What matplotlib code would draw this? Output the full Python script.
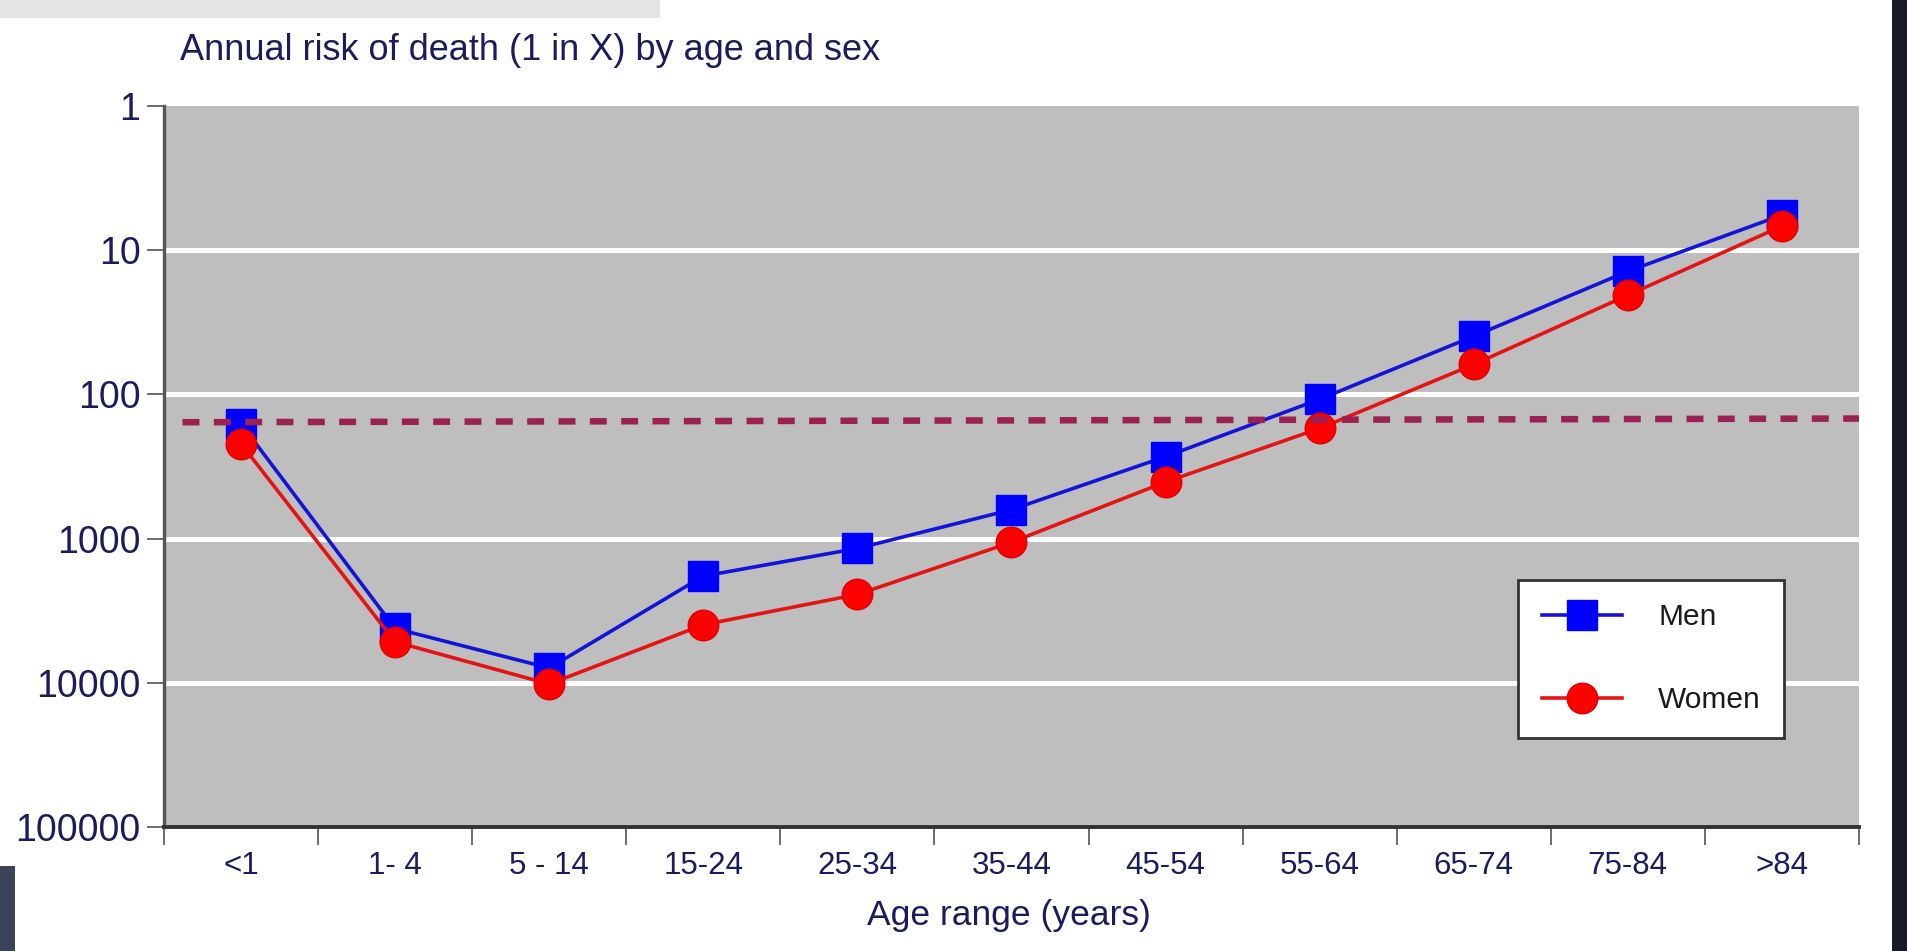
import numpy as np
import matplotlib.pyplot as plt
from matplotlib.patches import Rectangle
from matplotlib.ticker import FixedLocator, NullFormatter

# age bands and annual risk of death, 1 in X
age_bands = ['<1', '1- 4', '5 - 14', '15-24', '25-34', '35-44',
             '45-54', '55-64', '65-74', '75-84', '>84']
men = [160, 4200, 7900, 1820, 1170, 630, 270, 108, 39.5, 14.0, 5.7]
women = [220, 5200, 10200, 3960, 2440, 1060, 405, 172, 62, 20.5, 6.8]
ref_x = [-0.38, 10.5]
ref_y = [156, 147]
y_ticks = [1, 10, 100, 1000, 10000, 100000]

navy = '#1c1c5c'
sans = ['Liberation Sans', 'DejaVu Sans']

fig = plt.figure(figsize=(19.08, 9.51), dpi=100)
fig.patch.set_facecolor('white')
ax = fig.add_axes([164 / 1908, 1 - 827 / 951, 1695 / 1908, 721 / 951])

# scan artefacts around the edges of the original picture
fig.patches.append(Rectangle((1892 / 1908, 0), 16 / 1908, 1, transform=fig.transFigure,
                             facecolor='#181a28', edgecolor='none', zorder=0))
fig.patches.append(Rectangle((0, 0), 15 / 1908, 85 / 951, transform=fig.transFigure,
                             facecolor='#3c4258', edgecolor='none', zorder=0))
fig.patches.append(Rectangle((0, 1 - 18 / 951), 660 / 1908, 18 / 951, transform=fig.transFigure,
                             facecolor='#e4e4e6', edgecolor='none', zorder=0))

ax.set_facecolor('#bebebe')
x = np.arange(len(age_bands))

ax.set_yscale('log')
ax.set_ylim(100000, 1)
ax.set_xlim(-0.5, len(age_bands) - 0.5)

for v in y_ticks[1:-1]:
    ax.axhline(v, color='white', lw=3.6, zorder=1)

ax.plot(x, men, color='#1414d8', lw=2.6, marker='s', ms=21, mfc='#0000ff', mec='#0000ff',
        label='Men', zorder=3)
ax.plot(x, women, color='#e41414', lw=2.6, marker='o', ms=22, mfc='#ff0000', mec='#e00000',
        label='Women', zorder=4)
ax.plot(ref_x, ref_y, color='#9a2250', lw=4.7, dashes=(2.6, 2.2), zorder=5, clip_on=False)

ax.yaxis.set_major_locator(FixedLocator(y_ticks))
ax.yaxis.set_minor_locator(FixedLocator([]))
ax.set_yticklabels([str(v) for v in y_ticks])
ax.yaxis.set_minor_formatter(NullFormatter())
ax.tick_params(axis='y', which='major', length=12, width=1.2, color='#555555', pad=5,
               labelsize=27, labelcolor=navy)
for t in ax.get_yticklabels():
    t.set_fontfamily(sans)

ax.set_xticks(x)
ax.set_xticklabels(age_bands)
ax.set_xticks(np.arange(-0.5, len(age_bands)), minor=True)
ax.tick_params(axis='x', which='major', length=0, pad=17, labelsize=22.5, labelcolor=navy)
ax.tick_params(axis='x', which='minor', length=13, width=1.2, color='#555555')
for t in ax.get_xticklabels():
    t.set_fontfamily(sans)

for s in ['top', 'right']:
    ax.spines[s].set_visible(False)
ax.spines['left'].set_color('#555555')
ax.spines['left'].set_linewidth(2.4)
ax.spines['bottom'].set_color('#333333')
ax.spines['bottom'].set_linewidth(2.8)

leg = ax.legend(loc='upper left', bbox_to_anchor=(0.799, 0.343), borderaxespad=0,
                fancybox=False, framealpha=1, edgecolor='#333333',
                prop={'family': sans, 'size': 21.5},
                handlelength=2.7, handletextpad=1.2, labelspacing=1.85, borderpad=0.78)
leg.get_frame().set_linewidth(2)
for t in leg.get_texts():
    t.set_color('#1a1a1a')

fig.text(180 / 1908, 1 - 51 / 951, 'Annual risk of death (1 in X) by age and sex',
         ha='left', va='center', fontsize=26, color=navy, fontfamily=sans)
fig.text(1009 / 1908, 1 - 916 / 951, 'Age range (years)', ha='center', va='center',
         fontsize=25.5, color=navy, fontfamily=sans)

fig.savefig('out.png', dpi=100)
